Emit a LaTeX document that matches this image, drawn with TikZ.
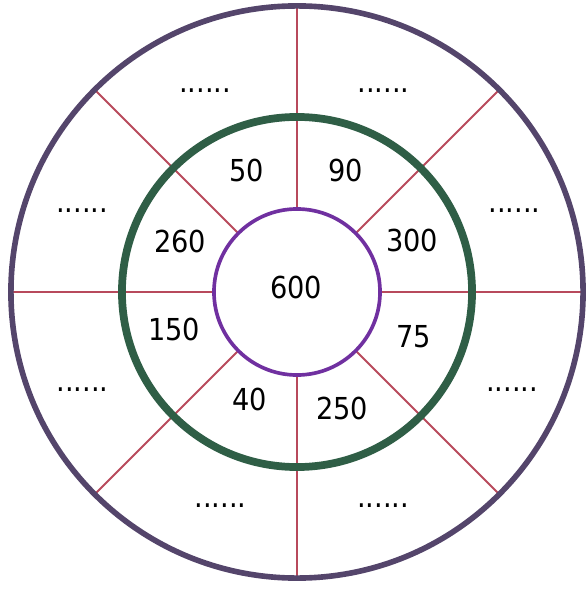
\documentclass[tikz,border=0pt]{standalone}
\usepackage{fontspec}
\setmainfont{DejaVu Sans Condensed}
\usepackage{xcolor}
\usepackage{tikz}
\usetikzlibrary{backgrounds}
\definecolor{rimgray}{HTML}{54456B}
\definecolor{ringgreen}{HTML}{2F5E46}
\definecolor{corepurple}{HTML}{7030A0}
\definecolor{spokered}{HTML}{B84A5C}
\tikzset{
  every picture/.append style={font=\fontsize{21.5}{26}\selectfont},
  wheel/.style={circle,outer sep=0pt,inner sep=0pt},
  num/.style={anchor=base,inner sep=0pt},
  spoke/.style={spokered,line width=1.5pt}
}

\begin{document}
\begin{tikzpicture}[x=0.025cm,y=-0.025cm]
    \useasboundingbox (0,0) rectangle (587,590);
    \node[wheel,draw=rimgray,line width=4pt,minimum size=14.3cm] (rim) at (297,292) {};
    \node[wheel,draw=ringgreen,line width=5.5pt,minimum size=8.75cm] (ring) at (297,292) {};
    \node[wheel,draw=corepurple,fill=white,line width=2.6pt,minimum size=4.15cm] (core) at (297,292) {};
    \begin{scope}[on background layer]
      \foreach \a in {0,45,...,315} {
        \draw[spoke] (core.\a) -- (rim.\a);
      }
    \end{scope}
    \node[num] (total) at (296,298) {600};
    % inner ring
    \node[num] (n50) at (247,182) {50};
    \node[num] (n90) at (346,182) {90};
    \node[num] (n260) at (180,252) {260};
    \node[num] (n300) at (412,251) {300};
    \node[num] (n150) at (174,340) {150};
    \node[num] (n75) at (414,347) {75};
    \node[num] (n40) at (249.5,410) {40};
    \node[num] (n250) at (342,419) {250};
    % outer ring
    \node[num] (d1) at (205,93) {......};
    \node[num] (d2) at (383.5,93) {......};
    \node[num] (d3) at (514.5,213) {......};
    \node[num] (d4) at (512,391) {......};
    \node[num] (d5) at (383,507) {......};
    \node[num] (d6) at (220.5,507) {......};
    \node[num] (d7) at (82.5,391) {......};
    \node[num] (d8) at (82,213) {......};
  \end{tikzpicture}
\end{document}
